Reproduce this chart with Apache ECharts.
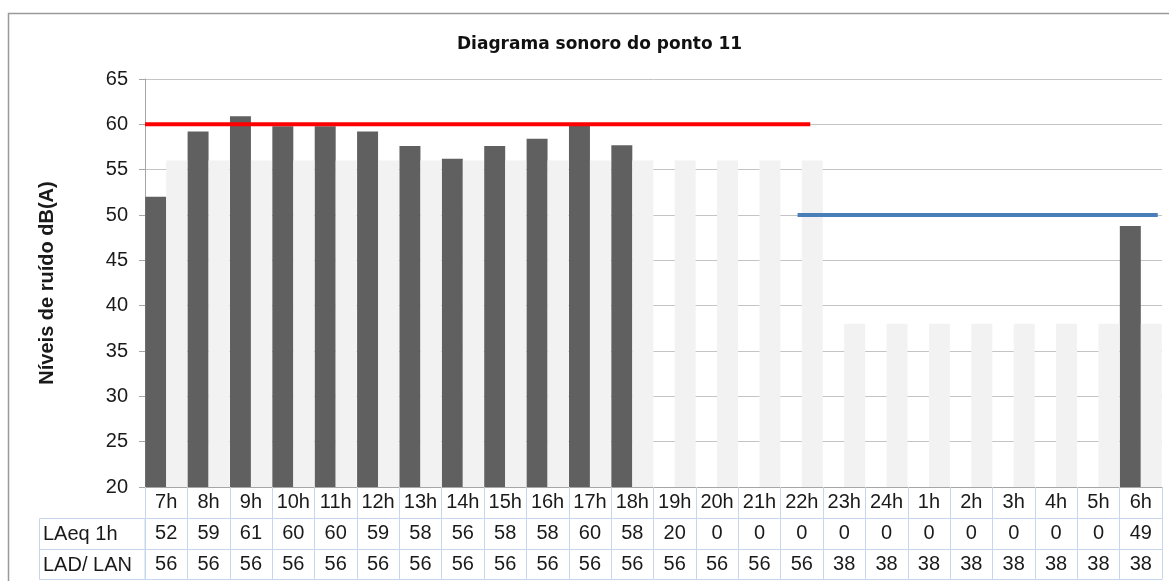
<!DOCTYPE html>
<html>
<head>
<meta charset="utf-8">
<title>Diagrama sonoro do ponto 11</title>
<script src="https://cdn.jsdelivr.net/npm/echarts@6/dist/echarts.min.js"></script>
<style>
  html, body { margin: 0; padding: 0; background: #fff; }
  #chart { width: 1169px; height: 581px; }
</style>
</head>
<body>
<div id="chart"></div>
<script>
// horas do dia (categorias)
const hours = ['7h','8h','9h','10h','11h','12h','13h','14h','15h','16h','17h','18h',
  '19h','20h','21h','22h','23h','24h','1h','2h','3h','4h','5h','6h']
// LAeq 1h medido (barras escuras)
const laeq = [52.0, 59.2, 60.9, 59.8, 59.8, 59.2, 57.6, 56.2, 57.6, 58.4, 59.9, 57.7,
  20, 0, 0, 0, 0, 0, 0, 0, 0, 0, 0, 48.8]
// LAD / LAN (barras claras)
const ladLan = [56, 56, 56, 56, 56, 56, 56, 56, 56, 56, 56, 56, 56, 56, 56, 56,
  38, 38, 38, 38, 38, 38, 38, 38]
// limites: periodo diurno e noturno (valor, inicio e fim em posicao de categoria)
const dayLimit = [[0, 60], [15.7, 60]]
const nightLimit = [[15.4, 50], [23.9, 50]]
const yTicks = [20, 65, 5]

const rowLabels = ['LAeq 1h', 'LAD/ LAN']

const tableColor = '#c6d6ec'
const gridColor = '#c4c4c4'
const textColor = '#1a1a1a'
const font = 'Liberation Sans, Arial, sans-serif'

const myChart = echarts.init(document.getElementById('chart'))

// eixo de categoria usado como linha da tabela
function tableAxis(offset, tickLen, formatter, lineColor) {
  return {
    type: 'category',
    data: hours,
    position: 'bottom',
    offset: offset,
    gridIndex: 0,
    axisLine: { show: true, lineStyle: { color: lineColor, width: 1 } },
    axisTick: { show: tickLen > 0, alignWithLabel: false, length: tickLen, lineStyle: { color: tableColor } },
    axisLabel: {
      show: !!formatter,
      formatter: formatter,
      interval: 0,
      margin: 15,
      verticalAlign: 'middle',
      fontSize: 20,
      fontFamily: font,
      color: textColor
    },
    splitLine: { show: false }
  }
}

const option = {
  animation: false,
  title: {
    text: 'Diagrama sonoro do ponto 11',
    left: 452,
    top: 31,
    textStyle: { fontFamily: 'DejaVu Sans', fontWeight: 'bold', fontSize: 17, color: '#111' }
  },
  grid: { left: 145, right: 7, top: 79, bottom: 94 },
  xAxis: [
    tableAxis(0, 31, (v) => v, '#a6a6a6'),
    tableAxis(31, 31, (v, i) => Math.round(laeq[i]), tableColor),
    tableAxis(62, 30, (v, i) => ladLan[i], tableColor),
    tableAxis(92, 0, null, tableColor),
    { type: 'value', min: 0, max: 24, show: false, gridIndex: 0 }
  ],
  yAxis: {
    type: 'value',
    min: yTicks[0],
    max: yTicks[1],
    interval: yTicks[2],
    name: 'Níveis de ruído dB(A)',
    nameLocation: 'middle',
    nameGap: 88,
    nameTextStyle: { fontFamily: font, fontWeight: 'bold', fontSize: 20, color: textColor },
    axisLine: { show: true, lineStyle: { color: '#a6a6a6' } },
    axisTick: { show: true, length: 6, lineStyle: { color: '#a6a6a6' } },
    axisLabel: { fontSize: 20, fontFamily: font, color: textColor, margin: 17 },
    splitLine: { show: true, lineStyle: { color: gridColor, width: 1 } }
  },
  series: [
    {
      name: 'LAeq 1h',
      type: 'bar',
      data: laeq,
      barGap: '0%',
      barCategoryGap: '1%',
      clip: true,
      itemStyle: { color: '#606060' },
      z: 2
    },
    {
      name: 'LAD/ LAN',
      type: 'bar',
      data: ladLan,
      clip: true,
      itemStyle: { color: '#f2f2f2' },
      z: 2
    },
    {
      name: 'Limite diurno',
      type: 'line',
      xAxisIndex: 4,
      data: dayLimit,
      symbol: 'none',
      lineStyle: { color: '#ff0000', width: 4 },
      z: 5
    },
    {
      name: 'Limite noturno',
      type: 'line',
      xAxisIndex: 4,
      data: nightLimit,
      symbol: 'none',
      lineStyle: { color: '#4a7ebb', width: 4 },
      z: 5
    }
  ],
  graphic: [
    // moldura do grafico
    { type: 'rect', shape: { x: 8.5, y: 13.5, width: 1200, height: 620 },
      style: { fill: 'none', stroke: '#9a9a9a', lineWidth: 1.5 }, silent: true },
    // celulas dos nomes das linhas da tabela
    { type: 'rect', shape: { x: 39.5, y: 518.5, width: 105.5, height: 31 },
      style: { fill: 'none', stroke: tableColor, lineWidth: 1 }, silent: true },
    { type: 'rect', shape: { x: 39.5, y: 549.5, width: 105.5, height: 30 },
      style: { fill: 'none', stroke: tableColor, lineWidth: 1 }, silent: true },
    { type: 'text', left: 43, top: 524, style: { text: rowLabels[0], fontSize: 20, fontFamily: font, fill: textColor } },
    { type: 'text', left: 43, top: 555, style: { text: rowLabels[1], fontSize: 20, fontFamily: font, fill: textColor } }
  ]
}

myChart.setOption(option)
window.addEventListener('resize', function () {
  myChart.resize()
})
</script>
</body>
</html>
